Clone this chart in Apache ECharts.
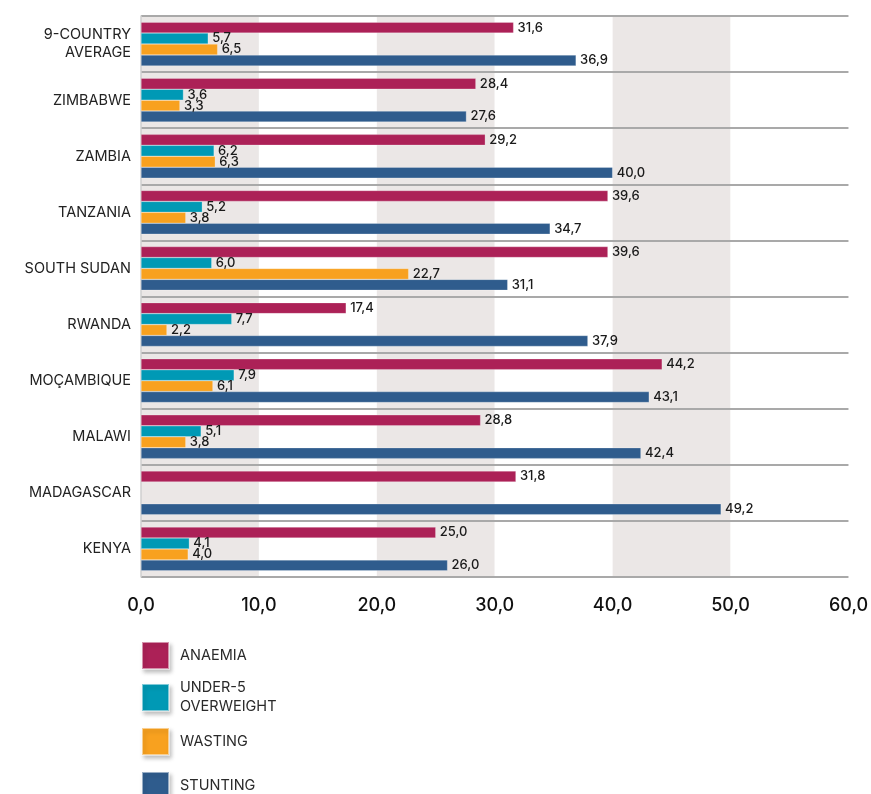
<!DOCTYPE html>
<html>
<head>
<meta charset="utf-8">
<script src="https://cdn.jsdelivr.net/npm/echarts@6/dist/echarts.min.js"></script>
<style>
  html, body { margin: 0; padding: 0; background: #fff; }
  #chart { width: 871px; height: 794px; }
</style>
</head>
<body>
<div id="chart"></div>
<script>
// categories, top to bottom
var countries = ['9-COUNTRY\nAVERAGE', 'ZIMBABWE', 'ZAMBIA', 'TANZANIA', 'SOUTH SUDAN',
  'RWANDA', 'MOÇAMBIQUE', 'MALAWI', 'MADAGASCAR', 'KENYA'];
var anaemia    = [31.6, 28.4, 29.2, 39.6, 39.6, 17.4, 44.2, 28.8, 31.8, 25.0];
var overweight = [5.7, 3.6, 6.2, 5.2, 6.0, 7.7, 7.9, 5.1, null, 4.1];
var wasting    = [6.5, 3.3, 6.3, 3.8, 22.7, 2.2, 6.1, 3.8, null, 4.0];
var stunting   = [36.9, 27.6, 40.0, 34.7, 31.1, 37.9, 43.1, 42.4, 49.2, 26.0];
var xTicks = [0, 10, 20, 30, 40, 50, 60];

var FONT = 'Inter, "Noto Sans", sans-serif';

// 1 decimal with comma
function fmt(v) {
  return Number(v).toFixed(1).replace('.', ',');
}

function mkSeries(name, data, color) {
  return {
    name: name,
    type: 'bar',
    data: data,
    barGap: '0%',
    barCategoryGap: '22%',
    itemStyle: { color: color, borderColor: 'rgba(255,255,255,0.5)', borderWidth: 0.5 },
    label: {
      show: true,
      position: 'right',
      distance: 4,
      color: '#1a1a1a',
      fontFamily: FONT,
      fontSize: 13,
      fontWeight: 500,
      formatter: function (p) { return fmt(p.value); }
    }
  };
}

// one legend per item so the spacing can follow the picture
var legendNames = ['ANAEMIA', 'UNDER-5 OVERWEIGHT', 'WASTING', 'STUNTING'];
var legendTops = [641, 669.5, 727, 771];
var legends = legendNames.map(function (n, i) {
  return {
    data: [n],
    left: 136,
    top: legendTops[i] - 5,
    icon: 'rect',
    itemWidth: 27,
    itemHeight: 27,
    selectedMode: false,
    itemStyle: { shadowBlur: 4, shadowColor: 'rgba(0,0,0,0.25)', shadowOffsetX: 2, shadowOffsetY: 3 },
    formatter: function (name) {
      return name == 'UNDER-5 OVERWEIGHT' ? 'UNDER-5\nOVERWEIGHT' : name;
    },
    textStyle: {
      color: '#2a2a2a',
      fontFamily: FONT,
      fontSize: 14.5,
      lineHeight: 19,
      padding: [i == 1 ? 18 : 2, 0, 0, 6]
    }
  };
});

var chart = echarts.init(document.getElementById('chart'));
chart.setOption({
  animation: false,
  legend: legends,
  grid: { left: 141, right: 22, top: 16, bottom: 217, containLabel: false },
  xAxis: {
    type: 'value',
    z: 0,
    min: xTicks[0],
    max: xTicks[xTicks.length - 1],
    interval: 10,
    axisLine: { show: false },
    axisTick: { show: false },
    splitLine: { show: false },
    splitArea: { show: true, areaStyle: { color: ['#ebe7e6', '#ffffff'] } },
    axisLabel: {
      margin: 20,
      color: '#111',
      fontFamily: FONT,
      fontSize: 18,
      fontWeight: 500,
      formatter: function (v) { return fmt(v); }
    }
  },
  yAxis: {
    type: 'category',
    z: 1,
    inverse: true,
    data: countries,
    axisLine: { show: true, lineStyle: { color: '#cfcfcf', width: 1.5 } },
    axisTick: { show: false },
    splitLine: { show: true, lineStyle: { color: '#a9a9a9', width: 2 } },
    axisLabel: {
      margin: 10,
      color: '#222',
      fontFamily: FONT,
      fontSize: 14.5,
      lineHeight: 18
    }
  },
  series: [
    mkSeries('ANAEMIA', anaemia, '#ac2157'),
    mkSeries('UNDER-5 OVERWEIGHT', overweight, '#0099b5'),
    mkSeries('WASTING', wasting, '#f8a11f'),
    mkSeries('STUNTING', stunting, '#2f5c8d')
  ]
});
</script>
</body>
</html>
